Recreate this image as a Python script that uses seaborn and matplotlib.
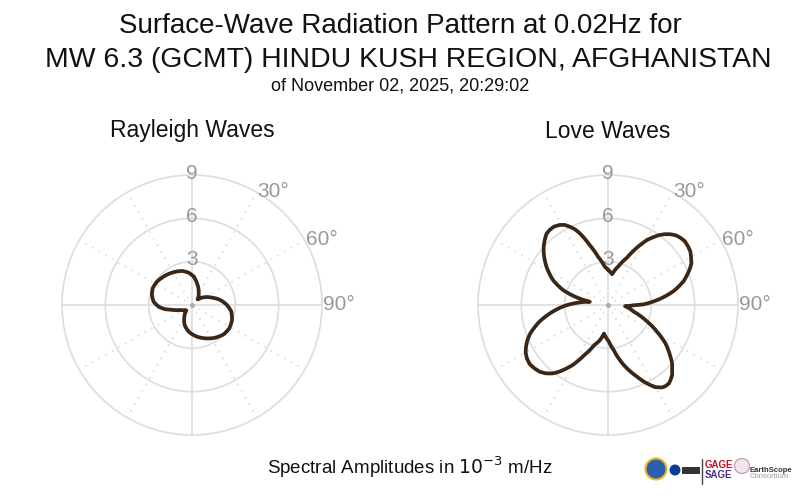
import numpy as np
import pandas as pd
import matplotlib
matplotlib.use("Agg")
import matplotlib.pyplot as plt
import seaborn as sns
from matplotlib.patches import Ellipse, Rectangle
from matplotlib.lines import Line2D

# ---------------- data ----------------
title_line1 = "Surface-Wave Radiation Pattern at 0.02Hz for"
title_line2 = "MW 6.3 (GCMT) HINDU KUSH REGION, AFGHANISTAN"
title_line3 = "of November 02, 2025, 20:29:02"
panel_titles = ["Rayleigh Waves", "Love Waves"]
amp_label = r"Spectral Amplitudes in $10^{-3}$ m/Hz"
radial_ticks = [3, 6, 9]
angle_label_deg = [30, 60, 90]
angle_labels = ["30°", "60°", "90°"]

# azimuth (deg, clockwise from north) and spectral amplitude (1e-3 m/Hz)
rayleigh_az = [3.4, 13, 26.6, 45, 56.7, 69.9, 80, 90, 99.6, 110.6, 122, 132.8,
               144.5, 158, 171, 187, 200, 213, 227, 233, 247, 253, 258, 261,
               267, 275, 284, 293, 304, 318, 331, 344, 354]
rayleigh_amp = [1.97, 1.54, 1.03, 0.55, 0.97, 1.48, 1.99, 2.42, 2.76, 2.96, 3.05, 2.99,
                2.78, 2.49, 2.22, 1.86, 1.48, 0.97, 0.54, 0.58, 0.88, 1.21, 1.53, 1.87,
                2.31, 2.67, 2.86, 2.96, 2.91, 2.75, 2.60, 2.45, 2.25]

love_az = [0.5, 7.5, 15.3, 21.9, 26.8, 31.0, 36.0, 38.7, 41.4, 44.2, 47.1, 50.2,
           53.5, 57.0, 60.3, 63.5, 66.4, 72.4, 78.0, 83.1, 88.9, 90.5, 94.0,
           104.6, 111.9, 118.6, 123.7, 129.6, 132.3, 135.4, 137.6, 140.2, 142.3,
           144.7, 146.7, 148.4, 150.3, 152.1, 154.8, 158.0, 165.3, 172.8, 179.0,
           188.0, 193.0, 198.8, 205.3, 210.5, 216.1, 219.0, 222.2, 225.7, 229.3,
           233.0, 236.7, 240.0, 243.0, 246.5, 250.0, 256.3, 262.3, 268.7, 274.3,
           280.0, 283.7, 288.4, 294.4, 301.9, 308.8, 312.2, 315.8, 319.1, 322.1,
           325.4, 328.9, 331.6, 333.9, 336.3, 338.5, 343.0, 348.3, 355.1]
love_amp = [2.42, 2.15, 2.80, 3.53, 4.45, 5.25, 5.97, 6.28, 6.53, 6.73, 6.84, 6.91,
            6.87, 6.80, 6.62, 6.45, 6.17, 5.50, 4.65, 3.66, 2.47, 1.80, 1.18,
            1.84, 2.79, 3.86, 4.78, 5.61, 6.00, 6.32, 6.58, 6.76, 6.88,
            6.88, 6.83, 6.69, 6.54, 6.27, 5.88, 5.35, 4.29, 3.14, 2.50,
            2.00, 2.50, 2.92, 3.83, 4.82, 5.71, 6.09, 6.39, 6.61, 6.72,
            6.79, 6.72, 6.58, 6.37, 6.08, 5.72, 4.89, 3.98, 3.02, 2.10,
            1.28, 2.25, 3.28, 4.18, 5.02, 5.71, 6.01, 6.28, 6.51, 6.58,
            6.59, 6.47, 6.30, 6.04, 5.73, 5.34, 4.34, 3.42, 2.66]

# ---------------- style ----------------
sns.set_theme(style="white")
plt.rcParams["font.family"] = ["Liberation Sans", "DejaVu Sans"]

LINE = "#3a2718"
GRID = "#dddddd"
LABEL = "#999999"
W, H = 800, 496

fig = plt.figure(figsize=(8, 4.96), dpi=100)
fig.patch.set_facecolor("white")


def fx(px):
    return px / W


def fy(py):
    return 1 - py / H


def draw_panel(left_px, az, amp, title):
    cx = left_px + 130
    ax = fig.add_axes([fx(left_px), fy(435), 260 / W, 260 / H], projection="polar")
    ax.set_facecolor("none")
    ax.set_theta_zero_location("N")
    ax.set_theta_direction(-1)
    ax.set_ylim(0, 9)
    ax.set_yticks([3, 6])
    ax.set_yticklabels([])
    ax.set_xticks([])
    ax.grid(False)
    ax.yaxis.grid(True, color=GRID, lw=1.2, ls="-")
    ax.spines["polar"].set_color(GRID)
    ax.spines["polar"].set_linewidth(1.2)
    # radial spokes
    for a in range(0, 360, 30):
        t = np.deg2rad(a)
        if a % 90 == 0:
            ax.plot([t, t], [0, 9], color=GRID, lw=1.2, zorder=1)
        else:
            ax.plot([t, t], [0, 9], color=GRID, lw=1.3, ls=(0, (1, 3.2)), zorder=1)
    ax.plot([0], [0], marker="o", ms=2.5, color="#aaaaaa", zorder=2)

    az_closed = np.append(np.asarray(az, float), az[0] + 360.0)
    amp_closed = np.append(np.asarray(amp, float), amp[0])
    df = pd.DataFrame({"theta": np.deg2rad(az_closed), "amp": amp_closed})
    sns.lineplot(data=df, x="theta", y="amp", sort=False, estimator=None,
                 ax=ax, color=LINE, lw=2.7, zorder=5)
    curve = ax.get_lines()[-1]
    curve.get_path()._interpolation_steps = 12
    curve.set_solid_joinstyle("round")
    ax.set_xlabel("")
    ax.set_ylabel("")

    for r in radial_ticks:
        ax.text(0, r + 0.12, str(r), ha="center", va="center", color=LABEL,
                fontsize=15, zorder=3)
    for a, lab in zip(angle_label_deg, angle_labels):
        ax.text(np.deg2rad(a), 9.1, lab, ha="left", va="center", color=LABEL,
                fontsize=15)
    fig.text(fx(cx), fy(131), title, ha="center", va="center", fontsize=16.5,
             color="#111111")
    return ax


draw_panel(62, rayleigh_az, rayleigh_amp, panel_titles[0])
draw_panel(478, love_az, love_amp, panel_titles[1])

fig.text(0.5, fy(26), title_line1, ha="center", va="center", fontsize=20, color="#111111")
fig.text(fx(408.5), fy(60), title_line2, ha="center", va="center", fontsize=20.4, color="#111111")
fig.text(0.5, fy(86), title_line3, ha="center", va="center", fontsize=13, color="#111111")
fig.text(fx(410), fy(467), amp_label, ha="center", va="center", fontsize=13.5, color="#111111")


# ---- approximate sponsor logos (decoration) ----
def circ(x, y, r, **kw):
    fig.patches.append(Ellipse((fx(x), fy(y)), 2 * r / W, 2 * r / H,
                               transform=fig.transFigure, **kw))


circ(656, 469, 10.5, facecolor="#2b5fab", edgecolor="#e9b820", lw=1.5)
circ(675, 470, 5.5, facecolor="#0b3d91", edgecolor="none")
fig.patches.append(Rectangle((fx(682), fy(474)), 18 / W, 7 / H, transform=fig.transFigure,
                             facecolor="#333333", edgecolor="none"))
fig.lines.append(Line2D([fx(702), fx(702)], [fy(459), fy(484)], transform=fig.transFigure,
                        color="#444444", lw=1))
fig.text(fx(705), fy(464.5), "GAGE", color="#c4122f", fontsize=7, fontweight="bold",
         ha="left", va="center")
fig.text(fx(705), fy(475), "SAGE", color="#4b2e83", fontsize=7, fontweight="bold",
         ha="left", va="center")
circ(742, 466, 7.5, facecolor="#f1e6ee", edgecolor="#c9a3c0", lw=1)
fig.text(fx(750), fy(470), "EarthScope", color="#333333", fontsize=5.5, fontweight="bold",
         ha="left", va="center")
fig.text(fx(750), fy(476), "Consortium", color="#999999", fontsize=5.5,
         ha="left", va="center")

fig.savefig("out.png", dpi=100, facecolor="white")
